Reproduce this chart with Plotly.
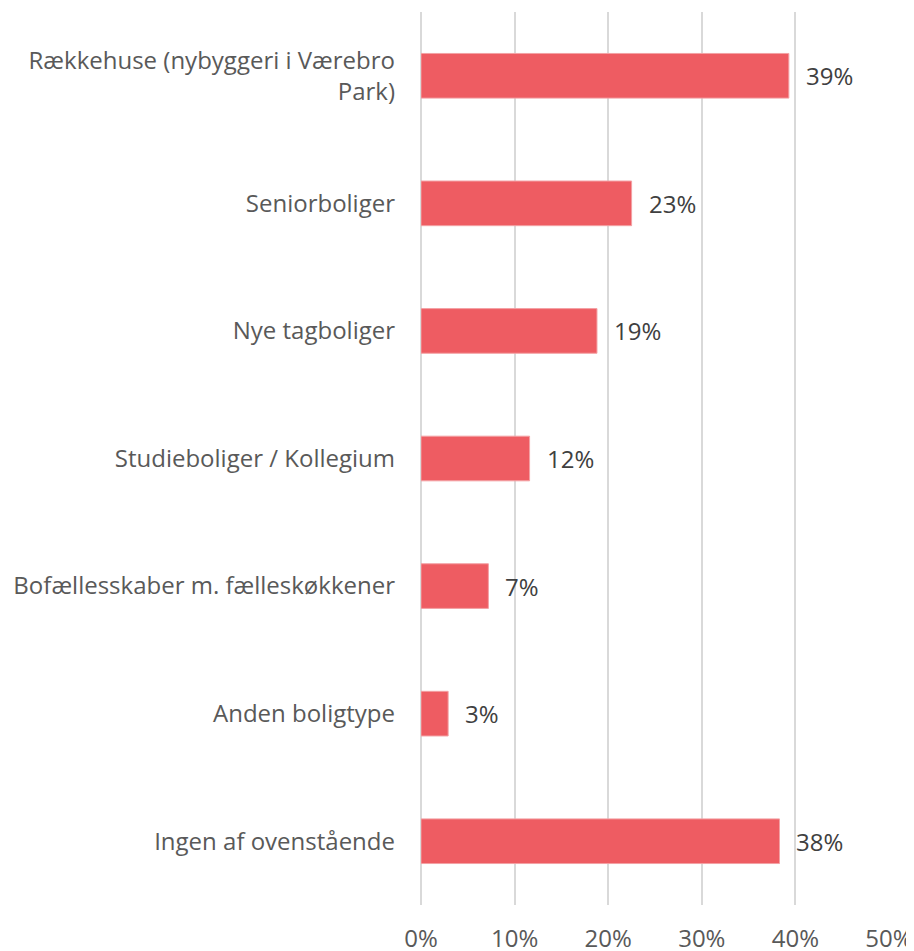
import plotly.graph_objects as go

categories = [
    "Rækkehuse (nybyggeri i Værebro<br>Park)",
    "Seniorboliger",
    "Nye tagboliger",
    "Studieboliger / Kollegium",
    "Bofællesskaber m. fælleskøkkener",
    "Anden boligtype",
    "Ingen af ovenstående",
]
values = [39.3, 22.5, 18.8, 11.6, 7.2, 2.9, 38.3]
value_labels = ["39%", "23%", "19%", "12%", "7%", "3%", "38%"]
tick_vals = [0, 10, 20, 30, 40, 50]
tick_text = ["0%", "10%", "20%", "30%", "40%", "50%"]

FONT = "Open Sans"
SIZE = 24
fig = go.Figure()
fig.add_trace(go.Bar(
    x=values, y=categories, orientation="h",
    marker=dict(color="#EE5C62", line=dict(color="#F3A1A4", width=1)),
    hoverinfo="skip",
))
for v, c, t in zip(values, categories, value_labels):
    fig.add_annotation(x=v, y=c, text=t, showarrow=False, xanchor="left",
                       xshift=15, font=dict(family=FONT, size=SIZE, color="#404040"))

# page body has an 8px default margin, so the figure is sized to fit the window
fig.update_layout(
    width=906, height=943,
    margin=dict(l=413, r=25, t=4, b=46),
    paper_bgcolor="white", plot_bgcolor="white",
    bargap=0.65, showlegend=False,
    font=dict(family=FONT, size=SIZE, color="#595959"),
)
fig.update_xaxes(range=[0, 50], tickvals=tick_vals, ticktext=tick_text,
                 showgrid=True, gridcolor="#D9D9D9", gridwidth=2,
                 zeroline=True, zerolinecolor="#D9D9D9", zerolinewidth=2,
                 showline=False, ticklabelstandoff=17, automargin=False,
                 tickfont=dict(family=FONT, size=SIZE, color="#595959"))
fig.update_yaxes(autorange="reversed", showgrid=False, showline=False,
                 ticklabelstandoff=25, automargin=False,
                 tickfont=dict(family=FONT, size=SIZE, color="#595959"))
fig.write_html("out.html")
